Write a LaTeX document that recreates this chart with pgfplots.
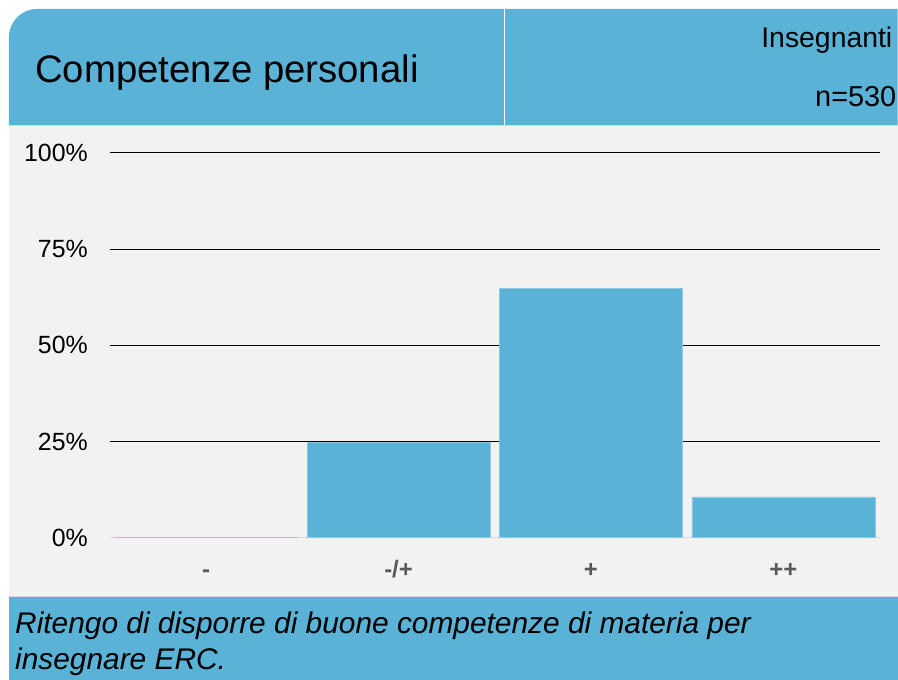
\documentclass[border=0pt]{standalone}
\usepackage{fontspec}
\setmainfont{Liberation Sans}
\usepackage{pgfplots}
\pgfplotsset{compat=1.18}

\definecolor{hdrblue}{HTML}{5AB3D6}
\definecolor{panelgray}{HTML}{F2F2F2}
\definecolor{ticktext}{HTML}{595959}
\definecolor{zeroline}{HTML}{D9D9D9}

\begin{document}
\begin{tikzpicture}[x=1bp,y=1bp]
    \path (0,0) rectangle (898,680);
    % panels
    \fill[panelgray] (9,84) rectangle (898,554);
    \fill[hdrblue] (9,555) -- (9,643) arc[start angle=180, end angle=90, radius=28] -- (898,671) -- (898,555) -- cycle;
    \fill[hdrblue] (9,0) rectangle (898,83);
    \draw[zeroline, line width=1bp] (9,554.5) -- (898,554.5);
    \draw[zeroline, line width=1bp] (9,83.5) -- (898,83.5);
    \draw[white, line width=1.5bp] (505,555) -- (505,671);
    % header and footer text
    \node[anchor=base west, inner sep=0pt, font=\fontsize{38.5}{44}\selectfont] at (35,597) {Competenze personali};
    \node[anchor=base east, inner sep=0pt, font=\fontsize{28.5}{34}\selectfont] at (893,632) {Insegnanti};
    \node[anchor=base east, inner sep=0pt, font=\fontsize{29}{34}\selectfont] at (897,573) {n=530};
    \node[anchor=base west, inner sep=0pt, font=\fontsize{30}{35}\selectfont\itshape] at (15,46) {Ritengo di disporre di buone competenze di materia per};
    \node[anchor=base west, inner sep=0pt, font=\fontsize{30}{35}\selectfont\itshape] at (15,10) {insegnare ERC.};

    \begin{axis}[
        at={(110bp,142bp)},
        anchor=south west,
        scale only axis,
        width=770bp,
        height=385bp,
        xmin=-0.5, xmax=3.5,
        ymin=0, ymax=100,
        ybar,
        bar width=183bp,
        xtick={0,1,2,3},
        xticklabels={-,-/+,+,++},
        ytick={25,50,75,100},
        yticklabels={25\%,50\%,75\%,100\%},
        extra y ticks={0},
        extra y tick labels={0\%},
        extra y tick style={grid style={draw=zeroline, line width=1.5bp}},
        ymajorgrids=true,
        grid style={draw=black, line width=1.1bp},
        axis line style={draw=none},
        major tick length=0pt,
        yticklabel style={anchor=east, inner sep=0pt, xshift=-22bp,
            font=\fontsize{25}{30}\selectfont, text=black},
        xticklabel style={anchor=base, inner sep=0pt, yshift=-40bp,
            font=\fontsize{24}{28}\selectfont\bfseries, text=ticktext},
        clip=false
    ]
        \addplot[fill=hdrblue, draw=hdrblue!70!white, line width=0.5bp] coordinates {
            (0,0)
            (1,24.7)
            (2,64.7)
            (3,10.6)
        };
    \end{axis}
\end{tikzpicture}
\end{document}
